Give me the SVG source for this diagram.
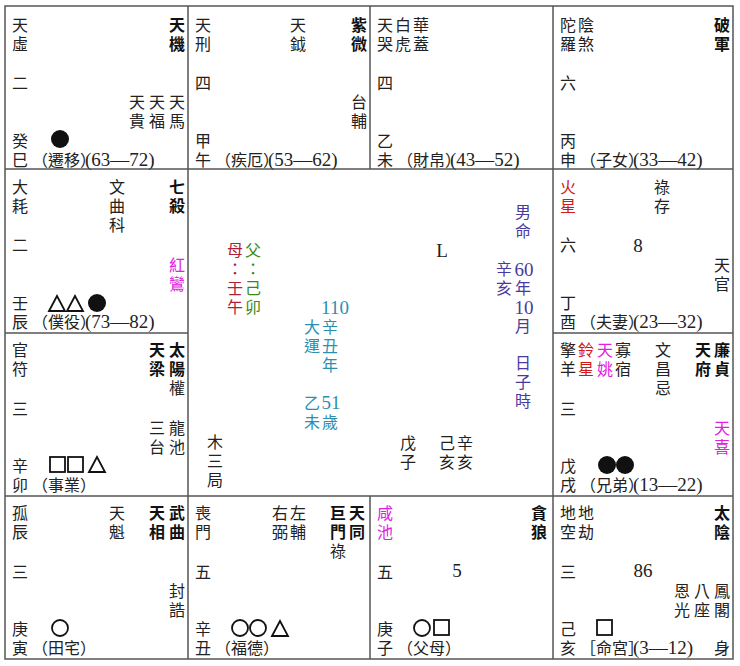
<svg xmlns="http://www.w3.org/2000/svg" width="740" height="666" viewBox="0 0 740 666">
<style>
text{font-family:"Noto Sans CJK TC","Noto Sans CJK SC",sans-serif;font-size:16px;fill:#222;text-anchor:middle}
.b{font-weight:bold;fill:#111}
.s{text-anchor:start}
.n{font-family:"Liberation Serif",serif;font-size:19px}
.r{fill:#d01818}.m{fill:#e020e0}.tl{fill:#2b8fb0}.p{fill:#4a3aa0}.dr{fill:#b02035}.g{fill:#3a8a1a}
.ln{stroke:#555;stroke-width:1.5;fill:none}
.sym{stroke:#111;stroke-width:1.8;fill:none}
.fill{fill:#111}
</style>
<g id="connectors">
<rect class="ln" x="5" y="6" width="728" height="653"/>
<line class="ln" x1="5" y1="169" x2="733" y2="169"/>
<line class="ln" x1="5" y1="496" x2="733" y2="496"/>
<line class="ln" x1="5" y1="333" x2="188" y2="333"/>
<line class="ln" x1="553" y1="333" x2="733" y2="333"/>
<line class="ln" x1="188" y1="6" x2="188" y2="659"/>
<line class="ln" x1="553" y1="6" x2="553" y2="659"/>
<line class="ln" x1="370" y1="6" x2="370" y2="169"/>
<line class="ln" x1="370" y1="496" x2="370" y2="659"/>
</g>

<g id="cell-si">
<text x="20" y="31">天<tspan x="20" dy="19">虛</tspan></text>
<text class="b" x="177" y="31">天<tspan x="177" dy="19">機</tspan></text>
<text x="20" y="89">二</text>
<text x="137" y="108">天<tspan x="137" dy="19">貴</tspan></text>
<text x="157" y="108">天<tspan x="157" dy="19">福</tspan></text>
<text x="177" y="108">天<tspan x="177" dy="19">馬</tspan></text>
<circle class="fill" cx="60" cy="139" r="9"/>
<text x="20" y="147">癸<tspan x="20" dy="19">巳</tspan></text>
<text class="s" x="32" y="166">（遷移）</text>
<text class="n s" x="85" y="166">(63—72)</text>
</g>

<g id="cell-wu">
<text x="203" y="31">天<tspan x="203" dy="19">刑</tspan></text>
<text x="298" y="31">天<tspan x="298" dy="19">鉞</tspan></text>
<text class="b" x="359" y="31">紫<tspan x="359" dy="19">微</tspan></text>
<text x="203" y="89">四</text>
<text x="359" y="108">台<tspan x="359" dy="19">輔</tspan></text>
<text x="203" y="147">甲<tspan x="203" dy="19">午</tspan></text>
<text class="s" x="215" y="166">（疾厄）</text>
<text class="n s" x="268" y="166">(53—62)</text>
</g>

<g id="cell-wei">
<text x="385" y="31">天<tspan x="385" dy="19">哭</tspan></text>
<text x="403" y="31">白<tspan x="403" dy="19">虎</tspan></text>
<text x="421" y="31">華<tspan x="421" dy="19">蓋</tspan></text>
<text x="385" y="89">四</text>
<text x="385" y="147">乙<tspan x="385" dy="19">未</tspan></text>
<text class="s" x="397" y="166">（財帛）</text>
<text class="n s" x="450" y="166">(43—52)</text>
</g>

<g id="cell-shen">
<text x="568" y="31">陀<tspan x="568" dy="19">羅</tspan></text>
<text x="586" y="31">陰<tspan x="586" dy="19">煞</tspan></text>
<text class="b" x="722" y="31">破<tspan x="722" dy="19">軍</tspan></text>
<text x="568" y="89">六</text>
<text x="568" y="147">丙<tspan x="568" dy="19">申</tspan></text>
<text class="s" x="580" y="166">（子女）</text>
<text class="n s" x="633" y="166">(33—42)</text>
</g>

<g id="cell-chen">
<text x="20" y="193">大<tspan x="20" dy="19">耗</tspan></text>
<text x="117" y="193">文<tspan x="117" dy="19">曲</tspan><tspan x="117" dy="19">科</tspan></text>
<text class="b" x="177" y="193">七<tspan x="177" dy="19">殺</tspan></text>
<text x="20" y="251">二</text>
<text class="m" x="177" y="271">紅<tspan x="177" dy="19">鸞</tspan></text>
<path class="sym" d="M49 311 L57 296 L65 311 Z M67 311 L75 296 L83 311 Z"/>
<circle class="fill" cx="97" cy="303" r="9"/>
<text x="20" y="309">壬<tspan x="20" dy="19">辰</tspan></text>
<text class="s" x="32" y="328">（僕役）</text>
<text class="n s" x="85" y="328">(73—82)</text>
</g>

<g id="cell-you">
<text class="r" x="568" y="193">火<tspan x="568" dy="19">星</tspan></text>
<text x="662" y="193">祿<tspan x="662" dy="19">存</tspan></text>
<text x="568" y="251">六</text>
<text class="n" x="638" y="252">8</text>
<text x="722" y="271">天<tspan x="722" dy="19">官</tspan></text>
<text x="568" y="309">丁<tspan x="568" dy="19">酉</tspan></text>
<text class="s" x="580" y="328">（夫妻）</text>
<text class="n s" x="633" y="328">(23—32)</text>
</g>

<g id="cell-mao">
<text x="20" y="356">官<tspan x="20" dy="19">符</tspan></text>
<text class="b" x="157" y="356">天<tspan x="157" dy="19">梁</tspan></text>
<text class="b" x="177" y="356">太<tspan x="177" dy="19">陽</tspan></text>
<text x="177" y="394">權</text>
<text x="20" y="415">三</text>
<text x="157" y="434">三<tspan x="157" dy="19">台</tspan></text>
<text x="177" y="434">龍<tspan x="177" dy="19">池</tspan></text>
<rect class="sym" x="50" y="457" width="15" height="15"/>
<rect class="sym" x="68" y="457" width="15" height="15"/>
<path class="sym" d="M89 472 L97 457 L105 472 Z"/>
<text x="20" y="472">辛<tspan x="20" dy="19">卯</tspan></text>
<text class="s" x="32" y="491">（事業）</text>
</g>

<g id="cell-xu">
<text x="568" y="356">擎<tspan x="568" dy="19">羊</tspan></text>
<text class="r" x="586" y="356">鈴<tspan x="586" dy="19">星</tspan></text>
<text class="m" x="605" y="356">天<tspan x="605" dy="19">姚</tspan></text>
<text x="623" y="356">寡<tspan x="623" dy="19">宿</tspan></text>
<text x="663" y="356">文<tspan x="663" dy="19">昌</tspan><tspan x="663" dy="19">忌</tspan></text>
<text class="b" x="703" y="356">天<tspan x="703" dy="19">府</tspan></text>
<text class="b" x="722" y="356">廉<tspan x="722" dy="19">貞</tspan></text>
<text x="568" y="415">三</text>
<text class="m" x="722" y="434">天<tspan x="722" dy="19">喜</tspan></text>
<circle class="fill" cx="607" cy="465" r="9"/>
<circle class="fill" cx="625" cy="465" r="9"/>
<text x="568" y="472">戊<tspan x="568" dy="19">戌</tspan></text>
<text class="s" x="580" y="491">（兄弟）</text>
<text class="n s" x="633" y="491">(13—22)</text>
</g>

<g id="cell-yin">
<text x="20" y="519">孤<tspan x="20" dy="19">辰</tspan></text>
<text x="117" y="519">天<tspan x="117" dy="19">魁</tspan></text>
<text class="b" x="157" y="519">天<tspan x="157" dy="19">相</tspan></text>
<text class="b" x="177" y="519">武<tspan x="177" dy="19">曲</tspan></text>
<text x="20" y="578">三</text>
<text x="177" y="597">封<tspan x="177" dy="19">誥</tspan></text>
<circle class="sym" cx="60" cy="628" r="8"/>
<text x="20" y="635">庚<tspan x="20" dy="19">寅</tspan></text>
<text class="s" x="32" y="654">（田宅）</text>
</g>

<g id="cell-chou">
<text x="203" y="519">喪<tspan x="203" dy="19">門</tspan></text>
<text x="280" y="519">右<tspan x="280" dy="19">弼</tspan></text>
<text x="298" y="519">左<tspan x="298" dy="19">輔</tspan></text>
<text class="b" x="338" y="519">巨<tspan x="338" dy="19">門</tspan></text>
<text x="338" y="557">祿</text>
<text class="b" x="357" y="519">天<tspan x="357" dy="19">同</tspan></text>
<text x="203" y="578">五</text>
<circle class="sym" cx="240" cy="628" r="8"/>
<circle class="sym" cx="258" cy="628" r="8"/>
<path class="sym" d="M272 636 L280 621 L288 636 Z"/>
<text x="203" y="635">辛<tspan x="203" dy="19">丑</tspan></text>
<text class="s" x="215" y="654">（福德）</text>
</g>

<g id="cell-zi">
<text class="m" x="385" y="519">咸<tspan x="385" dy="19">池</tspan></text>
<text class="b" x="539" y="519">貪<tspan x="539" dy="19">狼</tspan></text>
<text x="385" y="578">五</text>
<text class="n" x="457" y="577">5</text>
<circle class="sym" cx="422" cy="628" r="8"/>
<rect class="sym" x="434" y="620" width="15" height="15"/>
<text x="385" y="635">庚<tspan x="385" dy="19">子</tspan></text>
<text class="s" x="397" y="654">（父母）</text>
</g>

<g id="cell-hai">
<text x="568" y="519">地<tspan x="568" dy="19">空</tspan></text>
<text x="586" y="519">地<tspan x="586" dy="19">劫</tspan></text>
<text class="b" x="722" y="519">太<tspan x="722" dy="19">陰</tspan></text>
<text x="568" y="578">三</text>
<text class="n" x="643" y="577">86</text>
<text x="682" y="597">恩<tspan x="682" dy="19">光</tspan></text>
<text x="702" y="597">八<tspan x="702" dy="19">座</tspan></text>
<text x="722" y="597">鳳<tspan x="722" dy="19">閣</tspan></text>
<rect class="sym" x="597" y="620" width="15" height="15"/>
<text x="568" y="635">己<tspan x="568" dy="19">亥</tspan></text>
<text class="s" x="580" y="654">［命宮］</text>
<text class="n s" x="633" y="654">(3—12)</text>
<text x="722" y="654">身</text>
</g>

<g id="center">
<text class="dr" x="235" y="256">母<tspan x="235" dy="19">：</tspan><tspan x="235" dy="19">壬</tspan><tspan x="235" dy="19">午</tspan></text>
<text class="g" x="253" y="256">父<tspan x="253" dy="19">：</tspan><tspan x="253" dy="19">己</tspan><tspan x="253" dy="19">卯</tspan></text>
<text class="n tl" x="335" y="314">110</text>
<text class="tl" x="312" y="333">大<tspan x="312" dy="19">運</tspan></text>
<text class="tl" x="330" y="333">辛<tspan x="330" dy="19">丑</tspan><tspan x="330" dy="19">年</tspan></text>
<text class="tl" x="312" y="409">乙<tspan x="312" dy="19">未</tspan></text>
<text class="n tl" x="331" y="409">51</text>
<text class="tl" x="330" y="428">歲</text>
<text class="n" x="442" y="257">L</text>
<text class="p" x="523" y="218">男<tspan x="523" dy="19">命</tspan></text>
<text class="p" x="504" y="275">辛<tspan x="504" dy="19">亥</tspan></text>
<text class="n p" x="524" y="276">60</text>
<text class="p" x="523" y="294">年</text>
<text class="n p" x="524" y="314">10</text>
<text class="p" x="523" y="332">月</text>
<text class="p" x="523" y="369">日<tspan x="523" dy="19">子</tspan><tspan x="523" dy="19">時</tspan></text>
<text x="215" y="448">木<tspan x="215" dy="19">三</tspan><tspan x="215" dy="19">局</tspan></text>
<text x="408" y="449">戊<tspan x="408" dy="19">子</tspan></text>
<text x="447" y="449">己<tspan x="447" dy="19">亥</tspan></text>
<text x="465" y="449">辛<tspan x="465" dy="19">亥</tspan></text>
</g>
</svg>
